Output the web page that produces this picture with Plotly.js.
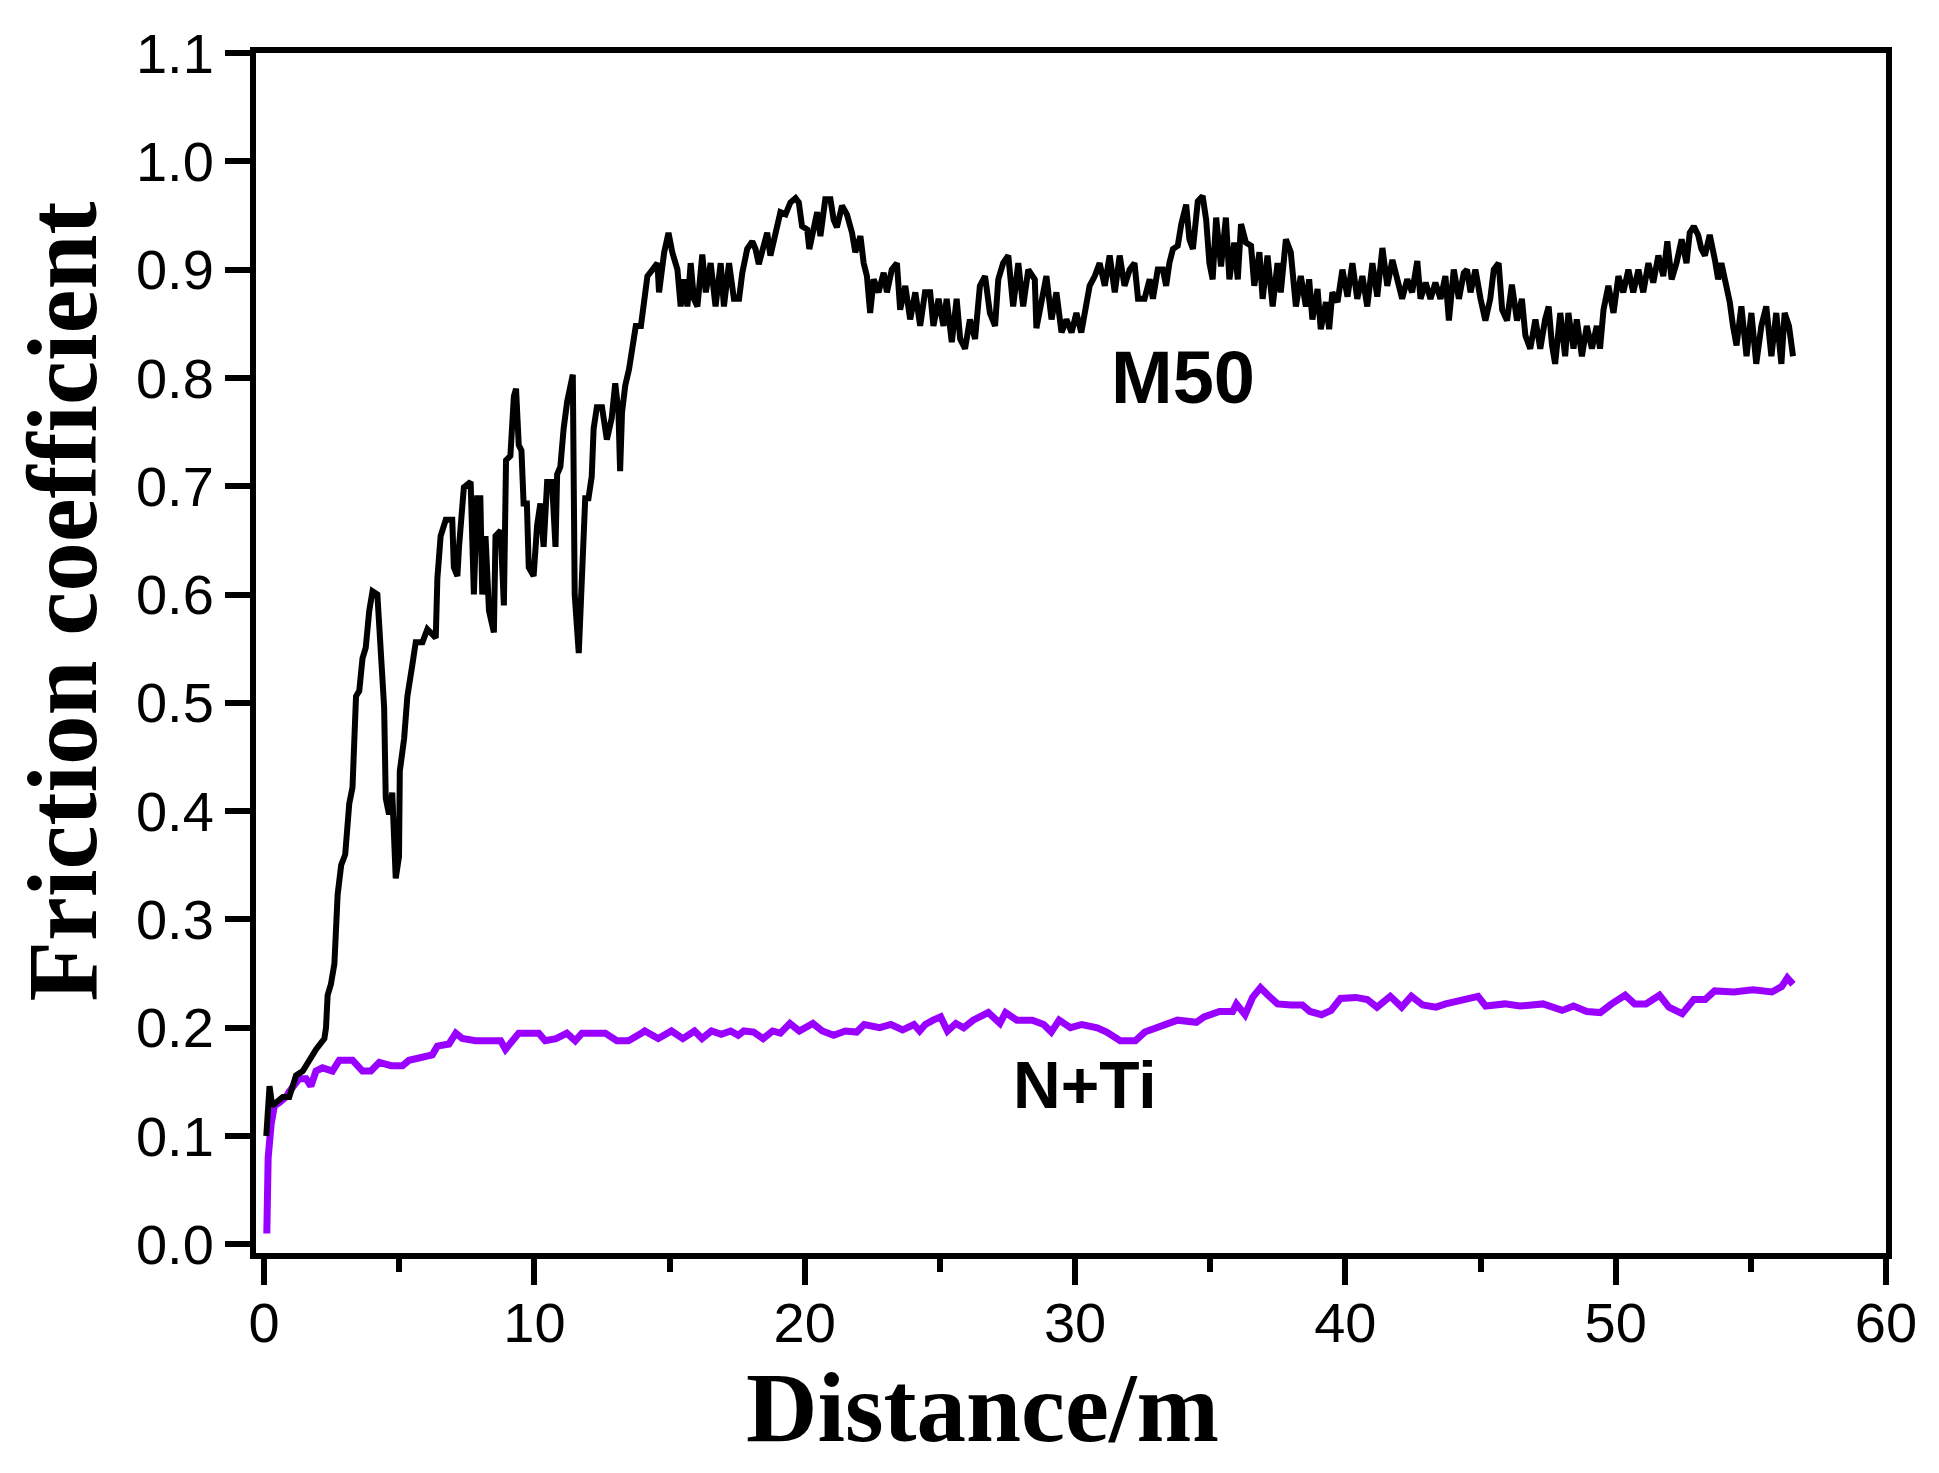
<!DOCTYPE html>
<html>
<head>
<meta charset="utf-8">
<script src="https://cdn.plot.ly/plotly-3.0.1.min.js"></script>
<style>
body { margin: 0; background: #ffffff; }
#friction-graph { width: 1939px; height: 1473px; }
</style>
</head>
<body>
<div id="friction-graph"></div>
<script>
// M50 friction curve (distance in m)
var m50X = [0.08, 0.2, 0.3, 0.44, 0.69, 0.93, 1.18, 1.43, 1.67, 1.92, 2.23, 2.29, 2.35, 2.47, 2.6, 2.66, 2.72, 2.85, 3.0, 3.15,
    3.27, 3.4, 3.52, 3.64, 3.76, 3.89, 4.01, 4.19, 4.32, 4.44, 4.5, 4.62, 4.74, 4.87, 4.99, 5.02, 5.18, 5.3, 5.49, 5.61,
    5.86, 6.04, 6.35, 6.41, 6.53, 6.72, 6.96, 7.02, 7.15, 7.21, 7.39, 7.64, 7.76, 7.88, 8.0, 8.07, 8.19, 8.32, 8.5, 8.56,
    8.75, 8.87, 8.95, 9.11, 9.24, 9.32, 9.42, 9.52, 9.6, 9.72, 9.79, 9.97, 10.1, 10.22, 10.34, 10.47, 10.65, 10.78, 10.84, 10.96,
    11.08, 11.21, 11.42, 11.45, 11.49, 11.64, 11.74, 11.88, 12.0, 12.12, 12.19, 12.31, 12.5, 12.68, 12.86, 12.99, 13.11, 13.17, 13.24, 13.36,
    13.5, 13.63, 13.75, 13.94, 14.06, 14.18, 14.37, 14.55, 14.61, 14.8, 14.96, 15.1, 15.29, 15.41, 15.54, 15.66, 15.78, 15.9, 16.03, 16.21,
    16.34, 16.52, 16.7, 16.89, 17.01, 17.2, 17.38, 17.57, 17.69, 17.87, 18.06, 18.18, 18.3, 18.49, 18.61, 18.73, 18.92, 19.1, 19.29, 19.47,
    19.66, 19.78, 19.9, 20.09, 20.17, 20.27, 20.46, 20.58, 20.76, 20.95, 21.07, 21.19, 21.38, 21.56, 21.75, 21.87, 22.06, 22.18, 22.3, 22.42,
    22.55, 22.73, 22.92, 23.04, 23.22, 23.41, 23.53, 23.72, 23.9, 24.09, 24.27, 24.45, 24.64, 24.76, 24.95, 25.13, 25.25, 25.44, 25.62, 25.75,
    25.93, 26.11, 26.3, 26.48, 26.67, 26.85, 27.04, 27.16, 27.34, 27.53, 27.71, 27.9, 28.08, 28.27, 28.51, 28.57, 28.76, 28.94, 29.13, 29.31,
    29.5, 29.68, 29.87, 30.05, 30.23, 30.42, 30.54, 30.73, 30.91, 31.1, 31.28, 31.47, 31.65, 31.83, 32.02, 32.2, 32.33, 32.57, 32.76, 32.88,
    33.06, 33.25, 33.37, 33.49, 33.62, 33.8, 33.93, 34.11, 34.23, 34.36, 34.54, 34.72, 34.85, 34.97, 35.09, 35.22, 35.4, 35.58, 35.71, 35.89,
    36.02, 36.14, 36.32, 36.51, 36.63, 36.82, 36.94, 37.12, 37.31, 37.49, 37.61, 37.8, 37.98, 38.17, 38.35, 38.54, 38.66, 38.78, 38.97, 39.09,
    39.28, 39.4, 39.52, 39.71, 39.89, 40.08, 40.26, 40.44, 40.63, 40.81, 41.0, 41.18, 41.37, 41.55, 41.74, 41.92, 42.1, 42.29, 42.47, 42.66,
    42.78, 42.97, 43.15, 43.33, 43.52, 43.7, 43.83, 44.01, 44.2, 44.38, 44.5, 44.63, 44.81, 45.0, 45.18, 45.36, 45.49, 45.67, 45.8, 45.98,
    46.16, 46.35, 46.53, 46.66, 46.84, 47.03, 47.21, 47.39, 47.52, 47.64, 47.76, 47.95, 48.13, 48.25, 48.44, 48.56, 48.75, 48.93, 49.12, 49.3,
    49.42, 49.55, 49.73, 49.92, 50.1, 50.28, 50.47, 50.65, 50.84, 51.02, 51.21, 51.39, 51.58, 51.76, 51.91, 52.07, 52.25, 52.44, 52.62, 52.74,
    52.89, 53.05, 53.17, 53.3, 53.48, 53.67, 53.79, 53.91, 54.1, 54.22, 54.34, 54.47, 54.65, 54.84, 55.02, 55.2, 55.39, 55.57, 55.76, 55.94,
    56.13, 56.25, 56.41, 56.56];
var m50Y = [0.10, 0.146, 0.128, 0.131, 0.136, 0.136, 0.156, 0.16, 0.17, 0.18, 0.19, 0.2, 0.23, 0.24, 0.259, 0.289, 0.323, 0.35, 0.36, 0.407,
    0.422, 0.506, 0.511, 0.541, 0.551, 0.585, 0.603, 0.6, 0.536, 0.496, 0.412, 0.397, 0.417, 0.338, 0.358, 0.437, 0.467, 0.506, 0.536, 0.556,
    0.556, 0.568, 0.56, 0.615, 0.654, 0.669, 0.669, 0.625, 0.617, 0.644, 0.699, 0.704, 0.6, 0.689, 0.689, 0.6, 0.654, 0.585, 0.565, 0.654,
    0.659, 0.59, 0.724, 0.728, 0.783, 0.79, 0.738, 0.733, 0.684, 0.684, 0.625, 0.617, 0.664, 0.684, 0.644, 0.704, 0.704, 0.644, 0.711, 0.718,
    0.753, 0.778, 0.803, 0.728, 0.6, 0.546, 0.6, 0.689, 0.689, 0.709, 0.753, 0.773, 0.773, 0.743, 0.763, 0.795, 0.768, 0.714, 0.768, 0.793,
    0.808, 0.83, 0.848, 0.848, 0.876, 0.894, 0.9, 0.906, 0.879, 0.916, 0.934, 0.916, 0.9, 0.866, 0.891, 0.866, 0.906, 0.873, 0.866, 0.914,
    0.879, 0.906, 0.866, 0.906, 0.866, 0.906, 0.873, 0.873, 0.897, 0.919, 0.926, 0.919, 0.905, 0.925, 0.934, 0.913, 0.937, 0.953, 0.951, 0.962,
    0.966, 0.962, 0.94, 0.937, 0.919, 0.931, 0.953, 0.931, 0.965, 0.965, 0.946, 0.939, 0.959, 0.951, 0.934, 0.916, 0.931, 0.906, 0.894, 0.86,
    0.891, 0.879, 0.897, 0.879, 0.9, 0.906, 0.863, 0.885, 0.854, 0.879, 0.848, 0.879, 0.879, 0.848, 0.873, 0.848, 0.873, 0.833, 0.873, 0.836,
    0.827, 0.854, 0.836, 0.885, 0.894, 0.86, 0.848, 0.891, 0.906, 0.913, 0.866, 0.906, 0.866, 0.9, 0.891, 0.846, 0.87, 0.894, 0.854, 0.879,
    0.842, 0.854, 0.842, 0.86, 0.842, 0.866, 0.885, 0.894, 0.906, 0.885, 0.913, 0.879, 0.913, 0.885, 0.9, 0.906, 0.873, 0.873, 0.891, 0.873,
    0.9, 0.9, 0.885, 0.906, 0.919, 0.922, 0.942, 0.96, 0.928, 0.919, 0.963, 0.968, 0.946, 0.906, 0.891, 0.948, 0.903, 0.948, 0.891, 0.925,
    0.891, 0.942, 0.925, 0.922, 0.885, 0.916, 0.873, 0.913, 0.866, 0.906, 0.879, 0.928, 0.916, 0.866, 0.894, 0.866, 0.891, 0.854, 0.882, 0.845,
    0.87, 0.845, 0.879, 0.87, 0.9, 0.875, 0.906, 0.873, 0.894, 0.866, 0.906, 0.875, 0.92, 0.885, 0.909, 0.891, 0.873, 0.891, 0.879, 0.908,
    0.873, 0.888, 0.873, 0.888, 0.873, 0.894, 0.853, 0.9, 0.873, 0.897, 0.9, 0.879, 0.9, 0.873, 0.853, 0.873, 0.9, 0.906, 0.863, 0.853,
    0.886, 0.853, 0.873, 0.839, 0.827, 0.854, 0.827, 0.854, 0.866, 0.831, 0.813, 0.86, 0.82, 0.86, 0.827, 0.854, 0.82, 0.848, 0.827, 0.848,
    0.827, 0.863, 0.885, 0.86, 0.894, 0.879, 0.9, 0.879, 0.9, 0.879, 0.906, 0.888, 0.913, 0.894, 0.926, 0.891, 0.906, 0.928, 0.906, 0.934,
    0.94, 0.932, 0.919, 0.913, 0.932, 0.909, 0.891, 0.906, 0.885, 0.87, 0.848, 0.83, 0.866, 0.82, 0.86, 0.813, 0.848, 0.866, 0.82, 0.86,
    0.813, 0.86, 0.848, 0.82];

// N+Ti friction curve
var ntiX = [0.1, 0.15, 0.26, 0.38, 0.57, 0.81, 0.93, 1.06, 1.3, 1.55, 1.73, 1.92, 2.16, 2.53, 2.78, 3.27, 3.64, 3.95, 4.26, 4.7,
    5.12, 5.36, 5.85, 6.22, 6.41, 6.84, 7.09, 7.33, 7.82, 8.31, 8.75, 8.93, 9.18, 9.42, 10.16, 10.4, 10.8, 11.2, 11.51, 11.76,
    12.0, 12.62, 13.05, 13.48, 13.97, 14.08, 14.58, 15.07, 15.49, 15.92, 16.2, 16.55, 16.91, 17.26, 17.54, 17.75, 18.11, 18.46, 18.81, 19.1,
    19.45, 19.8, 20.3, 20.65, 21.07, 21.5, 21.92, 22.2, 22.77, 23.19, 23.62, 24.04, 24.25, 24.46, 24.75, 25.03, 25.28, 25.59, 25.88, 26.23,
    26.79, 27.22, 27.43, 27.85, 28.42, 28.84, 29.12, 29.41, 29.83, 30.25, 30.82, 31.17, 31.67, 32.23, 32.58, 33.08, 33.79, 34.49, 34.77, 35.34,
    35.83, 35.97, 36.29, 36.57, 36.86, 37.14, 37.49, 37.99, 38.41, 38.69, 39.12, 39.47, 39.82, 40.39, 40.81, 41.17, 41.66, 42.08, 42.44, 42.86,
    43.35, 43.71, 44.48, 44.91, 45.19, 45.9, 46.46, 47.31, 48.02, 48.44, 48.93, 49.43, 49.85, 50.35, 50.7, 51.12, 51.62, 51.97, 52.46, 52.89,
    53.31, 53.66, 54.37, 55.08, 55.78, 56.14, 56.35, 56.56];
var ntiY = [0.01, 0.08, 0.111, 0.128, 0.131, 0.136, 0.141, 0.146, 0.153, 0.153, 0.146, 0.16, 0.163, 0.16, 0.17, 0.17, 0.16, 0.16, 0.168, 0.165,
    0.165, 0.17, 0.173, 0.175, 0.183, 0.185, 0.195, 0.19, 0.188, 0.188, 0.188, 0.18, 0.188, 0.195, 0.195, 0.188, 0.19, 0.195, 0.188, 0.195,
    0.195, 0.195, 0.188, 0.188, 0.195, 0.197, 0.19, 0.197, 0.19, 0.197, 0.19, 0.197, 0.194, 0.197, 0.193, 0.197, 0.196, 0.19, 0.197, 0.195,
    0.204, 0.197, 0.204, 0.197, 0.193, 0.197, 0.196, 0.203, 0.2, 0.203, 0.198, 0.203, 0.197, 0.203, 0.207, 0.21, 0.197, 0.204, 0.2, 0.207,
    0.214, 0.204, 0.214, 0.207, 0.207, 0.203, 0.196, 0.207, 0.2, 0.203, 0.2, 0.196, 0.188, 0.188, 0.196, 0.2, 0.207, 0.205, 0.21, 0.215,
    0.215, 0.222, 0.212, 0.228, 0.237, 0.23, 0.222, 0.221, 0.221, 0.215, 0.212, 0.216, 0.227, 0.228, 0.226, 0.219, 0.229, 0.219, 0.229, 0.221,
    0.219, 0.222, 0.226, 0.229, 0.22, 0.222, 0.22, 0.222, 0.216, 0.22, 0.215, 0.214, 0.222, 0.23, 0.222, 0.222, 0.23, 0.219, 0.213, 0.226,
    0.226, 0.234, 0.233, 0.235, 0.233, 0.238, 0.246, 0.24];

var xTicks = [0, 10, 20, 30, 40, 50, 60];
var yTicks = [0.0, 0.1, 0.2, 0.3, 0.4, 0.5, 0.6, 0.7, 0.8, 0.9, 1.0, 1.1];
var yTickText = ['0.0', '0.1', '0.2', '0.3', '0.4', '0.5', '0.6', '0.7', '0.8', '0.9', '1.0', '1.1'];

var traceM50 =
{
    x: m50X,
    y: m50Y,
    type: "scatter",
    mode: "lines",
    line: {color: '#000000', width: 6},
    name: 'M50'
};
var traceNTi =
{
    x: ntiX,
    y: ntiY,
    type: "scatter",
    mode: "lines",
    line: {color: '#9900ff', width: 7},
    name: 'N+Ti'
};

var tickFont = {family: 'Liberation Sans, Arial, sans-serif', size: 56, color: '#000000'};
var titleFont = {family: 'Liberation Serif, Times New Roman, serif', size: 99, color: '#000000'};
var labelFont = {family: 'Liberation Sans, Arial, sans-serif', color: '#000000'};

var layout =
{
    width: 1939,
    height: 1473,
    paper_bgcolor: '#ffffff',
    plot_bgcolor: '#ffffff',
    showlegend: false,
    margin: {l: 256, r: 53, t: 53, b: 220},
    xaxis: {
        range: [-0.3, 60],
        tickvals: xTicks,
        ticktext: xTicks.map(String),
        ticks: 'outside', ticklen: 26, tickwidth: 6, tickcolor: '#000000',
        ticklabelstandoff: -10,
        minor: {dtick: 5, ticks: 'outside', ticklen: 13, tickwidth: 6, tickcolor: '#000000', showgrid: false},
        showline: true, linewidth: 6, linecolor: '#000000', mirror: true,
        showgrid: false, zeroline: false,
        tickfont: tickFont
    },
    yaxis: {
        range: [-0.008, 1.1],
        tickvals: yTicks,
        ticktext: yTickText,
        ticks: 'outside', ticklen: 25, tickwidth: 6, tickcolor: '#000000',
        showline: true, linewidth: 6, linecolor: '#000000', mirror: true,
        showgrid: false, zeroline: false,
        tickfont: tickFont
    },
    annotations: [
        {text: '<b>Distance/m</b>', xref: 'paper', yref: 'paper', x: 0.4456, y: -0.129,
         xanchor: 'center', yanchor: 'middle', showarrow: false, font: titleFont},
        {text: '<b>Friction coefficient</b>', xref: 'paper', yref: 'paper', x: -0.119, y: 0.543,
         xanchor: 'center', yanchor: 'middle', textangle: -90, showarrow: false, font: titleFont},
        {text: '<b>M50</b>', xref: 'x', yref: 'y', x: 33.99, y: 0.80,
         xanchor: 'center', yanchor: 'middle', showarrow: false,
         font: {family: labelFont.family, color: labelFont.color, size: 74}},
        {text: '<b>N+Ti</b>', xref: 'x', yref: 'y', x: 30.35, y: 0.147,
         xanchor: 'center', yanchor: 'middle', showarrow: false,
         font: {family: labelFont.family, color: labelFont.color, size: 66}}
    ]
};

Plotly.newPlot('friction-graph', [traceNTi, traceM50], layout, {displayModeBar: false, staticPlot: true});
</script>
</body>
</html>
